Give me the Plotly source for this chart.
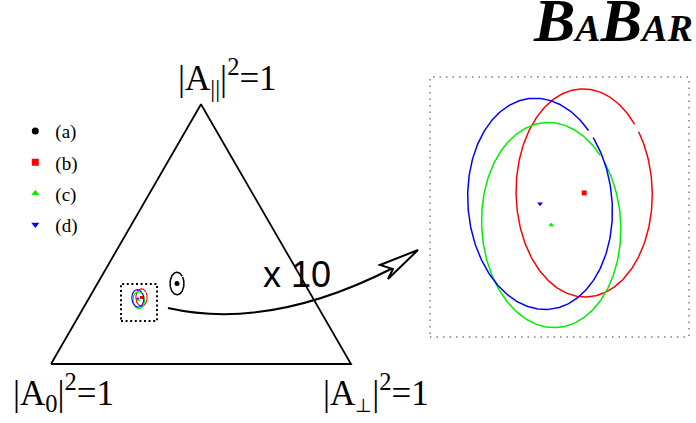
import numpy as np
import plotly.graph_objects as go

# fitted fractions for the four results
labels = ["(a)", "(b)", "(c)", "(d)"]
f_long = [0.4251, 0.5703, 0.5846, 0.5843]   # |A0|^2
f_perp = [0.2651, 0.1737, 0.1697, 0.1632]   # |A_perp|^2
f_par = [0.3098, 0.2560, 0.2457, 0.2525]    # |A_par|^2
# 1-sigma contour semi-axes in the triangle plane, and tilt (deg)
sig_h = [0.0233, 0.0189, 0.0193, 0.0200]
sig_v = [0.0377, 0.0289, 0.0285, 0.0294]
tilt = [0, 1, 3, 5]

colors = ["black", "#ff0000", "#00ee00", "#0000ff"]
symbols = ["circle", "square", "triangle-up", "triangle-down"]

# triangle corners: A0, A_perp, A_par
corner_x = [0.0, 1.0, 0.5]
corner_y = [0.0, 0.0, np.sqrt(3) / 2]


def to_xy(f0, fpe, fpa):
    x = f0 * corner_x[0] + fpe * corner_x[1] + fpa * corner_x[2]
    y = f0 * corner_y[0] + fpe * corner_y[1] + fpa * corner_y[2]
    return x, y


def ellipse(cx, cy, a, b, ang, gap=0.09, start=38):
    t0 = np.radians(start)
    t = np.linspace(t0 + gap / 2, t0 + 2 * np.pi - gap / 2, 300)
    th = np.radians(ang)
    ex, ey = a * np.cos(t), b * np.sin(t)
    return (cx + ex * np.cos(th) - ey * np.sin(th),
            cy + ex * np.sin(th) + ey * np.cos(th))


fig = go.Figure()

fig.add_trace(go.Scatter(
    x=corner_x + corner_x[:1], y=corner_y + corner_y[:1],
    mode="lines", line=dict(color="black", width=1.8),
    showlegend=False, hoverinfo="skip"))

for i in range(len(labels)):
    cx, cy = to_xy(f_long[i], f_perp[i], f_par[i])
    ex, ey = ellipse(cx, cy, sig_h[i], sig_v[i], tilt[i])
    fig.add_trace(go.Scatter(
        x=ex, y=ey, mode="lines",
        line=dict(color=colors[i], width=1.5 if i == 0 else 1.1),
        showlegend=False, hoverinfo="skip"))
    fig.add_trace(go.Scatter(
        x=[cx], y=[cy], mode="markers",
        marker=dict(color=colors[i], symbol=symbols[i], size=5 if i == 0 else 3),
        showlegend=False, name=labels[i]))
    if i > 0:
        # zoomed view
        fig.add_trace(go.Scatter(
            x=ex, y=ey, mode="lines", xaxis="x2", yaxis="y2",
            line=dict(color=colors[i], width=1.5),
            showlegend=False, hoverinfo="skip"))
        fig.add_trace(go.Scatter(
            x=[cx], y=[cy], mode="markers", xaxis="x2", yaxis="y2",
            marker=dict(color=colors[i], symbol=symbols[i], size=5),
            showlegend=False, name=labels[i]))

# legend entries
for i in range(len(labels)):
    fig.add_trace(go.Scatter(
        x=[None], y=[None], mode="markers", name=labels[i],
        legendgroup=str(i),
        marker=dict(color=colors[i], symbol=symbols[i], size=7)))

lab_font = dict(family="Liberation Serif", size=35, color="black")
annotations = [
    dict(x=corner_x[2], y=corner_y[2], xref="x", yref="y",
         text="|A<sub>||</sub>|<sup>2</sup>=1", showarrow=False,
         xanchor="left", yanchor="middle", xshift=-25, yshift=27, font=lab_font),
    dict(x=corner_x[0], y=corner_y[0], xref="x", yref="y",
         text="|A<sub>0</sub>|<sup>2</sup>=1", showarrow=False,
         xanchor="left", yanchor="middle", xshift=-40, yshift=-28, font=lab_font),
    dict(x=corner_x[1], y=corner_y[1], xref="x", yref="y",
         text="|A<sub><span style='font-size:19px'>⊥</span></sub>|<sup>2</sup>=1",
         showarrow=False,
         xanchor="left", yanchor="middle", xshift=-30, yshift=-28, font=lab_font),
    dict(x=0.82, y=0.2967, xref="x", yref="y", text="x 10", showarrow=False,
         font=dict(family="Liberation Sans", size=36, color="black")),
    dict(x=1, y=1, xref="paper", yref="paper", xanchor="right", yanchor="top",
         xshift=-1, yshift=16, showarrow=False,
         text="<b><i>B<span style='font-size:38px'>A</span>B"
              "<span style='font-size:38px'>AR</span></i></b>",
         font=dict(family="Liberation Serif", size=62, color="black")),
]

shapes = [
    dict(type="rect", xref="x2 domain", yref="y2 domain", x0=0, x1=1, y0=0, y1=1,
         line=dict(color="#808080", width=1.5, dash="1.5px,5px")),
    dict(type="rect", xref="x", yref="y", x0=0.2333, x1=0.3533, y0=0.1433, y1=0.2667,
         line=dict(color="black", width=2, dash="2px,2.6px")),
    dict(type="path", xref="x", yref="y",
         path="M 0.39,0.1867 Q 0.7283,0.11 1.14,0.32",
         line=dict(color="black", width=2)),
    dict(type="path", xref="x", yref="y",
         path="M 1.2233,0.38 L 1.0967,0.33 L 1.14,0.3167 L 1.1233,0.2833 Z",
         fillcolor="white", line=dict(color="black", width=2)),
]

fig.update_layout(
    width=696, height=423,
    margin=dict(l=0, r=0, t=0, b=0),
    paper_bgcolor="white", plot_bgcolor="rgba(0,0,0,0)",
    xaxis=dict(domain=[0, 1], range=[-51 / 300, 645 / 300], visible=False),
    yaxis=dict(domain=[0, 1], range=[-59 / 300, 364 / 300], visible=False),
    xaxis2=dict(domain=[430 / 696, 689 / 696], range=[0.2589, 0.3308],
                anchor="y2", visible=False),
    yaxis2=dict(domain=[1 - 337 / 423, 1 - 77 / 423], range=[0.1817, 0.2539],
                anchor="x2", visible=False),
    legend=dict(x=0.022, y=0.735, xanchor="left", yanchor="top",
                font=dict(family="Liberation Serif", size=19, color="black"),
                tracegroupgap=3.5, itemwidth=30, bgcolor="rgba(0,0,0,0)"),
    annotations=annotations,
    shapes=shapes,
)

# drop the page margin so the figure sits at the window's top-left corner
fig.write_html("out.html", config={"displayModeBar": False},
               post_script="document.body.style.margin = '0';")
